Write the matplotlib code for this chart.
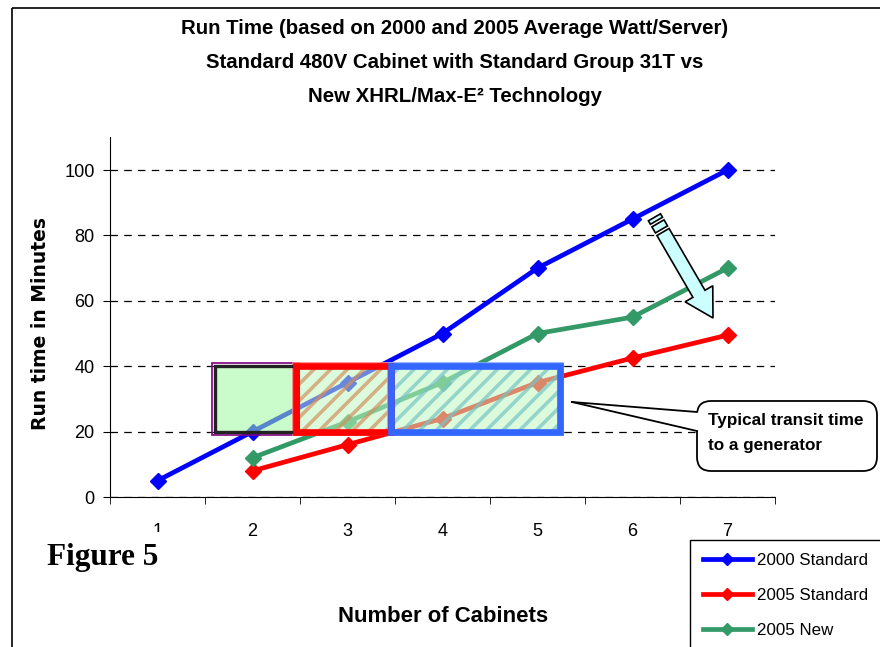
import matplotlib
matplotlib.use("Agg")
import matplotlib.pyplot as plt
import matplotlib.patches as mpatches
from matplotlib import font_manager
import numpy as np

# ── data ──────────────────────────────────────────────────────────────────────
cabinets = [1, 2, 3, 4, 5, 6, 7]
std_2000 = [5, 20, 35, 50, 70, 85, 100]
cab_2005 = [2, 3, 4, 5, 6, 7]
std_2005 = [8, 16, 24, 35, 42.5, 49.5]
new_2005 = [12, 23, 35, 50, 55, 70]

# transit-time bands (cabinet range, minutes range)
band_x0 = [1.6, 2.46, 3.46]
band_x1 = [2.46, 3.46, 5.24]
band_lo, band_hi = 20, 40

# ── fonts ─────────────────────────────────────────────────────────────────────
names = {f.name for f in font_manager.fontManager.ttflist}
HAVE_NARROW = "Liberation Sans Narrow" in names
NARROW = ["Liberation Sans Narrow", "Liberation Sans", "DejaVu Sans"] if HAVE_NARROW \
    else ["Liberation Sans", "DejaVu Sans"]
K = 1.0 if HAVE_NARROW else 0.84   # shrink when no narrow face

plt.rcParams["font.family"] = NARROW
plt.rcParams["hatch.linewidth"] = 2.6

W, H = 880, 647
fig = plt.figure(figsize=(W / 100, H / 100), dpi=100)
fig.patch.set_facecolor("white")

ax = fig.add_axes([110 / W, 1 - 497 / H, 665 / W, (497 - 137.3) / H])

ax.plot(cabinets, std_2000, color="#0000ff", lw=3.4, marker="D", ms=8,
        label="2000 Standard", zorder=2)
ax.plot(cab_2005, std_2005, color="#ff0000", lw=3.4, marker="D", ms=8,
        label="2005 Standard", zorder=2)
ax.plot(cab_2005, new_2005, color="#339966", lw=3.4, marker="D", ms=8,
        label="2005 New", zorder=2)

# bands: light green fill + optional hatch + thick border
fills = ["#a0f8a0", "#c0f8c0", "#c0f8c0"]
hatch_col = [None, "#d09060", "#78c4c4"]
borders = ["#222222", "#ff0000", "#3366ff"]
outer = ["#800080", "#ff8080", "#80a8ff"]
for i in range(3):
    x0, x1 = band_x0[i], band_x1[i]
    ax.add_patch(mpatches.Rectangle((x0, band_lo), x1 - x0, band_hi - band_lo,
                                    facecolor=fills[i], edgecolor="none",
                                    alpha=0.55, zorder=3))
    if hatch_col[i]:
        ax.add_patch(mpatches.Rectangle((x0, band_lo), x1 - x0, band_hi - band_lo,
                                        facecolor="none", edgecolor=hatch_col[i],
                                        hatch="//", lw=0, alpha=0.7, zorder=3))
    ax.add_patch(mpatches.Rectangle((x0 - 0.03, band_lo - 0.9), x1 - x0 + 0.06,
                                    band_hi - band_lo + 1.8, facecolor="none",
                                    edgecolor=outer[i], lw=1.2, zorder=3.5))
    ax.add_patch(mpatches.Rectangle((x0, band_lo), x1 - x0, band_hi - band_lo,
                                    facecolor="none", edgecolor=borders[i],
                                    lw=2.4 if i == 0 else 4.8, zorder=4))

ax.set_xlim(0.5, 7.5)
ax.set_ylim(0, 110)
ax.set_yticks([0, 20, 40, 60, 80, 100])
ax.set_xticks(cabinets)
ax.set_xticks(np.arange(0.5, 8, 1), minor=True)
ax.tick_params(axis="x", which="major", length=0, pad=19, labelsize=15.5 * K)
ax.tick_params(axis="x", which="minor", length=5, direction="out")
ax.tick_params(axis="y", length=5, direction="out", pad=6, labelsize=15.5 * K)
ax.grid(axis="y", color="black", ls=(0, (6, 5)), lw=0.9)
ax.set_axisbelow(True)
ax.spines["top"].set_visible(False)
ax.spines["right"].set_visible(False)

# ── texts ─────────────────────────────────────────────────────────────────────
title_lines = ["Run Time (based on 2000 and 2005 Average Watt/Server)",
               "Standard 480V Cabinet with Standard Group 31T vs",
               "New XHRL/Max-E² Technology"]
for line, yy in zip(title_lines, [28, 62, 97]):
    fig.text(455 / W, 1 - yy / H, line, ha="center", va="center",
             fontsize=17.5 * K, fontweight="bold")

fig.text(40 / W, 1 - 323 / H, "Run time in Minutes", rotation=90,
         ha="center", va="center", fontsize=13.5, fontweight="bold",
         family=["DejaVu Sans"])
fig.text(443 / W, 1 - 617 / H, "Number of Cabinets", ha="center", va="center",
         fontsize=19 * K, fontweight="bold")

# ── overlay in pixel coordinates for frame, callout, arrow ───────────────────
ov = fig.add_axes([0, 0, 1, 1], zorder=1)
ov.set_xlim(0, W)
ov.set_ylim(H, 0)
ov.axis("off")
ov.patch.set_alpha(0)

ov.add_patch(mpatches.Rectangle((12, 8), 1000, 1000, facecolor="none",
                                edgecolor="black", lw=1.2))

ov.text(47, 558, "Figure 5", ha="left", va="center", fontsize=22.5,
        fontweight="bold", family=["Liberation Serif", "DejaVu Serif"],
        bbox=dict(facecolor="white", edgecolor="none", pad=8))

# callout
box = mpatches.FancyBboxPatch((697, 401), 180, 70,
                              boxstyle="round,pad=0,rounding_size=14",
                              facecolor="white", edgecolor="black", lw=1.3,
                              zorder=5)
ov.add_patch(box)
tip = (572, 402)
ov.add_patch(mpatches.Polygon([tip, (700, 412), (700, 431)], closed=True,
                              facecolor="white", edgecolor="none", zorder=6))
ov.plot([tip[0], 697], [tip[1], 412], color="black", lw=1.3, zorder=7)
ov.plot([tip[0], 697], [tip[1], 431], color="black", lw=1.3, zorder=7)
ov.text(708, 433, "Typical transit time\nto a generator", ha="left",
        va="center", fontsize=12.3, fontweight="bold", linespacing=1.8,
        family=["Liberation Sans", "DejaVu Sans"], zorder=8)

# block arrow
s0 = np.array([663.0, 232.0])
end = np.array([713.0, 318.0])
d = end - s0
ov.add_patch(mpatches.FancyArrow(s0[0], s0[1], d[0], d[1], width=14,
                                 head_width=32, head_length=28,
                                 length_includes_head=True,
                                 facecolor="#ccffff", edgecolor="black",
                                 lw=1.2, zorder=5))
u = d / np.hypot(*d)
for t0, t1 in [(-17, -13), (-10, -3)]:
    a = s0 + u * t0
    ov.add_patch(mpatches.FancyArrow(a[0], a[1], u[0] * (t1 - t0),
                                     u[1] * (t1 - t0), width=14,
                                     head_width=14, head_length=0,
                                     facecolor="#ccffff", edgecolor="black",
                                     lw=1.2, zorder=5))

# legend
leg = fig.legend(loc="upper left",
                 bbox_to_anchor=(690 / W, 1 - 540 / H - 0.01, 230 / W, 0.01),
                 mode="expand", fancybox=False, edgecolor="black", framealpha=1,
                 borderaxespad=0, fontsize=14.5 * K, numpoints=1, handlelength=2.9,
                 handletextpad=0.3, labelspacing=1.2, borderpad=0.75,
                 markerscale=0.8)
leg.get_frame().set_linewidth(1.0)

fig.savefig("out.png", dpi=100)
